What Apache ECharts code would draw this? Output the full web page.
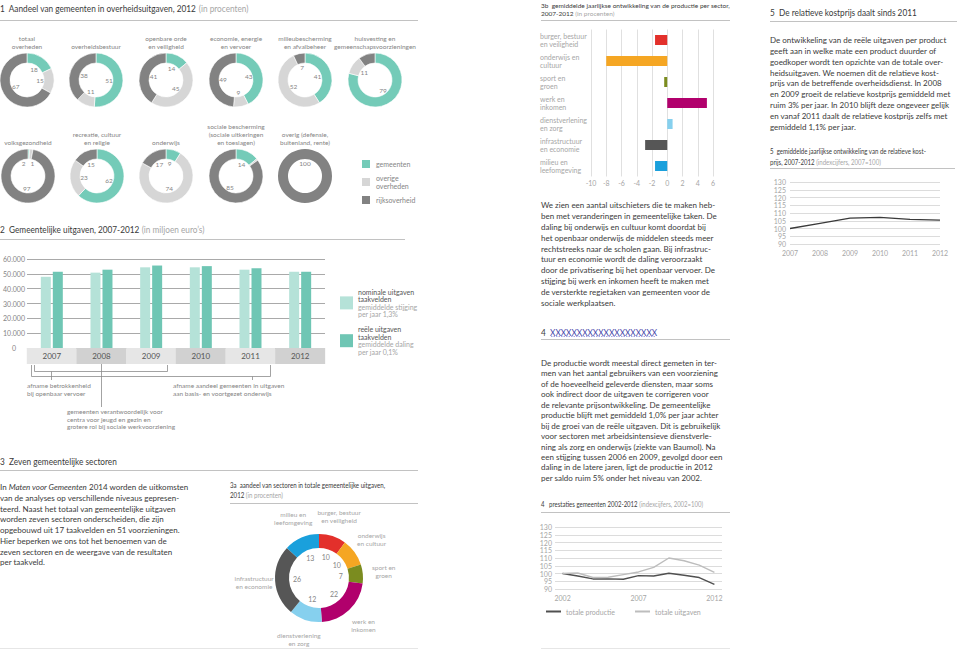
<!DOCTYPE html>
<html>
<head>
<meta charset="utf-8">
<script src="https://cdn.jsdelivr.net/npm/echarts@6/dist/echarts.min.js"></script>
<style>
  html, body { margin: 0; background: #fff; }
  #chart { width: 960px; height: 651px; }
</style>
</head>
<body>
<div id="chart"></div>
<script>
// ---- data ----
// 1: aandeel per overheidslaag (procenten)
const donutTitles = [
  'totaal\noverheden', 'overheidsbestuur', 'openbare orde\nen veiligheid',
  'economie, energie\nen vervoer', 'milieubescherming\nen afvalbeheer',
  'huisvesting en\ngemeenschapsvoorzieningen',
  'volksgezondheid', 'recreatie, cultuur\nen religie', 'onderwijs',
  'sociale bescherming\n(sociale uitkeringen\nen toeslagen)', 'overig (defensie,\nbuitenland, rente)'
]
const shareNames = ['gemeenten', 'overige overheden', 'rijksoverheid']
const gemeentenPct = [18, 51, 14, 43, 41, 79, 1, 62, 9, 14, 0]
const overigePct   = [15, 11, 45, 9, 52, 11, 2, 23, 74, 1, 0]
const rijkPct      = [67, 38, 41, 49, 7, 10, 97, 15, 17, 85, 100]

// 2: gemeentelijke uitgaven (miljoen euro)
const years = ['2007', '2008', '2009', '2010', '2011', '2012']
const barNames = ['nominale uitgaven taakvelden', 'reële uitgaven taakvelden']
const barNotes = [['gemiddelde stijging', 'per jaar 1,3%'], ['gemiddelde daling', 'per jaar 0,1%']]
const nominal = [48000, 50800, 54400, 54400, 52800, 51400]
const reeel   = [51400, 52800, 55600, 55200, 53700, 51400]

// 3a / 3b: sectoren
const sectors3a = ['burger, bestuur\nen veiligheid', 'onderwijs\nen cultuur', 'sport en\ngroen', 'werk en\ninkomen',
  'dienstverlening\nen zorg', 'infrastructuur\nen economie', 'milieu en\nleefomgeving']
const sectors3b = ['burger, bestuur\nen veiligheid', 'onderwijs en\ncultuur', 'sport en\ngroen', 'werk en\ninkomen',
  'dienstverlening\nen zorg', 'infrastructuur\nen economie', 'milieu en\nleefomgeving']
const sectorShare = [10, 10, 7, 22, 12, 26, 13]
const sectorGrowth = [-1.6, -8.0, -0.4, 5.2, 0.7, -2.9, -1.6]

// 4: prestaties 2002-2012 (2002=100)
const prodYears = ['2002', '2003', '2004', '2005', '2006', '2007', '2008', '2009', '2010', '2011', '2012']
const lineNames = ['totale productie', 'totale uitgaven']
const productie = [100, 98.4, 96.5, 96.5, 96.3, 98.6, 98.4, 100.2, 98.9, 97.4, 93.0]
const uitgaven  = [100, 100.3, 97.4, 97.6, 99.3, 101.0, 104.0, 110.0, 108.2, 105.4, 100.8]

// 5: relatieve kostprijs (2007=100)
const relCost = [100, 103.3, 106.7, 107.2, 105.9, 105.4]

// ---- styling / layout ----
const FONT = 'Lato, "Open Sans", sans-serif'
const TEAL = '#74cbb8', LIGHT = '#d6d6d6', DARK = '#828282'
const shareColors = [TEAL, LIGHT, DARK]
const sectorColors = ['#e3302b', '#f5a623', '#7b8c1f', '#b1006c', '#86d0ee', '#565656', '#1aa0dc']
const INK = '#3a3a3a', SOFT = '#858585', PALE = '#a6a6a6', RULE = '#c2c2c2'

const donutPos = [[27, 80], [96, 80], [166, 80], [236, 80], [305, 80], [375, 80],
                  [28, 176], [97, 176], [166, 176], [236, 176], [305, 176]]
// kleine verschuiving van labels die anders overlappen
const nudge = { 6: [[4, 0], [-6, 0], [0, 0]] }

const graphic = []
const rich = (x, y, str, size, dark, grey, sx) => {
  graphic.push({
    type: 'text', x, y, silent: true, scaleX: sx || 1,
    style: { text: str, fontFamily: FONT, fontSize: size, fill: dark, textVerticalAlign: 'middle',
      rich: {
        a: { fontSize: size, fontFamily: FONT, fill: dark },
        b: { fontSize: size, fontFamily: FONT, fill: grey },
        x: { fontSize: size, fontFamily: FONT, fill: '#4343a8' }
      } }
  })
}
const rule = (x1, y, x2, color) => {
  graphic.push({ type: 'line', silent: true, shape: { x1, y1: y + 0.5, x2, y2: y + 0.5 },
    style: { stroke: color || RULE, lineWidth: 1 } })
}
const para = (x, y0, lh, lines, size, extra) => {
  graphic.push({
    type: 'text', x, y: y0 - lh / 2, silent: true,
    style: Object.assign({ text: lines.join('\n'), fontSize: size, fontFamily: FONT, fill: INK,
      lineHeight: lh, textVerticalAlign: 'top',
      rich: { i: { fontStyle: 'italic', fontSize: size, fontFamily: FONT, fill: INK, lineHeight: lh } } }, extra || {})
  })
}

// headings
const HS = 0.87
rich(0, 8, '{a|1  Aandeel van gemeenten in overheidsuitgaven, 2012} {b|(in procenten)}', 9.5, INK, PALE, HS)
rule(0, 20, 418)
rich(0, 229, '{a|2  Gemeentelijke uitgaven, 2007-2012} {b|(in miljoen euro’s)}', 9.5, INK, PALE, HS)
rule(0, 239, 405)
rich(0, 461, '{a|3  Zeven gemeentelijke sectoren}', 9.5, INK, PALE, HS)
rule(0, 470, 418)
rich(541, 332, '{a|4  }{x|XXXXXXXXXXXXXXXXXXXX}', 9.5, INK, PALE, HS)
graphic.push({ type: 'line', silent: true, shape: { x1: 551, y1: 336.5, x2: 655, y2: 336.5 },
  style: { stroke: '#6a6ad0', lineWidth: 0.6, lineDash: [1.5, 1] } })
rule(541, 339, 730)
rich(770, 12, '{a|5  De relatieve kostprijs daalt sinds 2011}', 9.5, INK, PALE, HS)
rule(770, 21, 957)
rule(0, 648, 418, '#e6e6e6')
rule(541, 648, 730, '#e6e6e6')

// chart subtitles
rich(541, 5, '{a|3b  gemiddelde jaarlijkse ontwikkeling van de productie per sector,}', 6.5, INK, PALE)
rich(541, 13, '{a|2007-2012} {b|(in procenten)}', 6.5, INK, PALE)
rule(541, 20, 730)
rich(230, 485, '{a|3a  aandeel van sectoren in totale gemeentelijke uitgaven,}', 7, INK, PALE, 0.88)
rich(230, 495, '{a|2012} {b|(in procenten)}', 7, INK, PALE, 0.88)
rule(230, 503, 418)
rich(541, 504, '{a|4   prestaties gemeenten 2002-2012} {b|(indexcijfers, 2002=100)}', 7, INK, PALE, 0.86)
rule(541, 512, 730)
rich(770, 151, '{a|5  gemiddelde jaarlijkse ontwikkeling van de relatieve kost-}', 7, INK, PALE, 0.87)
rich(770, 162, '{a|prijs, 2007-2012} {b|(indexcijfers, 2007=100)}', 7, INK, PALE, 0.87)
rule(770, 168, 955)

// paragraphs
para(0, 487, 10.75, [
  'In {i|Maten voor Gemeenten} 2014 worden de uitkomsten',
  'van de analyses op verschillende niveaus gepresen-',
  'teerd. Naast het totaal van gemeentelijke uitgaven',
  'worden zeven sectoren onderscheiden, die zijn',
  'opgebouwd uit 17 taakvelden en 51 voorzieningen.',
  'Hier beperken we ons tot het benoemen van de',
  'zeven sectoren en de weergave van de resultaten',
  'per taakveld.'
], 8)
para(541, 205, 10.9, [
  'We zien een aantal uitschieters die te maken heb-',
  'ben met veranderingen in gemeentelijke taken. De',
  'daling bij onderwijs en cultuur komt doordat bij',
  'het openbaar onderwijs de middelen steeds meer',
  'rechtstreeks naar de scholen gaan. Bij infrastruc-',
  'tuur en economie wordt de daling veroorzaakt',
  'door de privatisering bij het openbaar vervoer. De',
  'stijging bij werk en inkomen heeft te maken met',
  'de versterkte regietaken van gemeenten voor de',
  'sociale werkplaatsen.'
], 8)
para(541, 363, 10.45, [
  'De productie wordt meestal direct gemeten in ter-',
  'men van het aantal gebruikers van een voorziening',
  'of de hoeveelheid geleverde diensten, maar soms',
  'ook indirect door de uitgaven te corrigeren voor',
  'de relevante prijsontwikkeling. De gemeentelijke',
  'productie blijft met gemiddeld 1,0% per jaar achter',
  'bij de groei van de reële uitgaven. Dit is gebruikelijk',
  'voor sectoren met arbeidsintensieve dienstverle-',
  'ning als zorg en onderwijs (ziekte van Baumol). Na',
  'een stijging tussen 2006 en 2009, gevolgd door een',
  'daling in de latere jaren, ligt de productie in 2012',
  'per saldo ruim 5% onder het niveau van 2002.'
], 8)
para(770, 40, 10.85, [
  'De ontwikkeling van de reële uitgaven per product',
  'geeft aan in welke mate een product duurder of',
  'goedkoper wordt ten opzichte van de totale over-',
  'heidsuitgaven. We noemen dit de relatieve kost-',
  'prijs van de betreffende overheidsdienst. In 2008',
  'en 2009 groeit de relatieve kostprijs gemiddeld met',
  'ruim 3% per jaar. In 2010 blijft deze ongeveer gelijk',
  'en vanaf 2011 daalt de relatieve kostprijs zelfs met',
  'gemiddeld 1,1% per jaar.'
], 8)

// donut titles
donutTitles.forEach((t, i) => {
  const [cx, cy] = donutPos[i]
  graphic.push({
    type: 'text', x: cx, y: cy - 30, silent: true,
    style: { text: t, fontSize: 6.5, fontFamily: FONT, fill: SOFT, lineHeight: 8,
      textAlign: 'center', textVerticalAlign: 'bottom' }
  })
})

// annotations under chart 2
const ann = '#8c8c8c'
const seg = (x1, y1, x2, y2) => graphic.push({ type: 'line', silent: true,
  shape: { x1, y1, x2, y2 }, style: { stroke: ann, lineWidth: 0.8 } })
seg(34.5, 365, 34.5, 371.5); seg(34.5, 371.5, 167.5, 371.5); seg(167.5, 365, 167.5, 371.5)
seg(31.5, 365, 31.5, 376.5); seg(31.5, 376.5, 270.5, 376.5); seg(270.5, 365, 270.5, 376.5)
seg(51.5, 371.5, 51.5, 380); seg(252.5, 376.5, 252.5, 380)
seg(101.5, 364, 101.5, 407)
para(27, 386, 7.6, ['afname betrokkenheid', 'bij openbaar vervoer'], 6.5, { fill: SOFT })
para(173, 386, 7.6, ['afname aandeel gemeenten in uitgaven', 'aan basis- en voortgezet onderwijs'], 6.5, { fill: SOFT })
para(67, 412, 7.4, ['gemeenten verantwoordelijk voor', 'centra voor jeugd en gezin en',
  'grotere rol bij sociale werkvoorziening'], 6.5, { fill: SOFT })

// ---- series ----
const series = []
donutTitles.forEach((t, i) => {
  const center = donutPos[i]
  const vals = [gemeentenPct[i], overigePct[i], rijkPct[i]]
  const single = vals.filter(v => v > 0).length === 1
  const start = single ? 270 : 90
  series.push({
    type: 'pie', silent: true, animation: false, center, radius: [17, 27], startAngle: start,
    label: { show: false }, labelLine: { show: false }, emphasis: { disabled: true },
    itemStyle: { borderColor: '#fff', borderWidth: single ? 0 : 0.6 },
    data: shareNames.map((n, k) => ({ name: n, value: vals[k], itemStyle: { color: shareColors[k] } }))
      .filter(d => d.value > 0)
  })
  series.push({
    type: 'pie', silent: true, animation: false, center, radius: [6, 14], startAngle: start,
    itemStyle: { color: 'rgba(0,0,0,0)' }, labelLine: { show: false }, emphasis: { disabled: true },
    label: { show: true, position: 'inside', formatter: '{c}', fontSize: 6.5, color: SOFT, fontFamily: FONT },
    data: vals.map((v, k) => {
      const d = { name: 'w' + k, value: v }
      if (nudge[i]) d.label = { offset: nudge[i][k] }
      return d
    }).filter(d => d.value > 0)
  })
})

// chart 2 bars
series.push({ name: barNames[0], type: 'bar', xAxisIndex: 0, yAxisIndex: 0, data: nominal, barWidth: 10,
  barGap: '20%', silent: true, itemStyle: { color: '#b5e2d8' } })
series.push({ name: barNames[1], type: 'bar', xAxisIndex: 0, yAxisIndex: 0, data: reeel, barWidth: 10,
  silent: true, itemStyle: { color: '#6fc6b4' } })

// chart 3a
const c3a = [319, 578]
series.push({ type: 'pie', silent: true, animation: false, center: c3a, radius: [30, 44], startAngle: 90,
  label: { show: false }, labelLine: { show: false }, emphasis: { disabled: true },
  data: sectors3a.map((n, k) => ({ name: n, value: sectorShare[k], itemStyle: { color: sectorColors[k] } })) })
series.push({ type: 'pie', silent: true, animation: false, center: c3a, radius: [11, 27], startAngle: 90,
  itemStyle: { color: 'rgba(0,0,0,0)' }, labelLine: { show: false }, emphasis: { disabled: true },
  label: { show: true, position: 'inside', formatter: '{c}', fontSize: 7, color: SOFT, fontFamily: FONT },
  data: sectorShare.map((v, k) => ({ name: 'p' + k, value: v })) })
series.push({ type: 'pie', silent: true, animation: false, center: c3a, radius: [50, 74], startAngle: 90,
  itemStyle: { color: 'rgba(0,0,0,0)' }, labelLine: { show: false }, emphasis: { disabled: true },
  label: { show: true, position: 'inside', formatter: '{b}', fontSize: 6.5, lineHeight: 8, color: PALE, fontFamily: FONT },
  data: sectors3a.map((n, k) => ({ name: n, value: sectorShare[k] })) })

// chart 3b
series.push({ type: 'bar', xAxisIndex: 1, yAxisIndex: 1, barWidth: 10, silent: true,
  data: sectorGrowth.map((v, k) => ({ value: v, itemStyle: { color: sectorColors[k] } })) })

// chart 4
series.push({ name: lineNames[0], type: 'line', xAxisIndex: 2, yAxisIndex: 2, data: productie,
  symbol: 'none', silent: true, lineStyle: { color: '#505050', width: 1.4 }, itemStyle: { color: '#505050' } })
series.push({ name: lineNames[1], type: 'line', xAxisIndex: 2, yAxisIndex: 2, data: uitgaven,
  symbol: 'none', silent: true, lineStyle: { color: '#bdbdbd', width: 1.4 }, itemStyle: { color: '#bdbdbd' } })

// chart 5
series.push({ type: 'line', xAxisIndex: 3, yAxisIndex: 3, data: relCost,
  symbol: 'none', silent: true, lineStyle: { color: '#3a3a3a', width: 1.4 } })

const small = { fontSize: 7, color: PALE, fontFamily: FONT }
const noLine = { show: false }

const option = {
  animation: false,
  textStyle: { fontFamily: FONT },
  grid: [
    { left: 25, top: 259, width: 300, height: 89 },
    { left: 591, top: 29.5, width: 122, height: 147 },
    { left: 555, top: 527, width: 167, height: 62 },
    { left: 790, top: 182, width: 150, height: 62 }
  ],
  xAxis: [
    { gridIndex: 0, type: 'category', data: years, axisLine: noLine, axisTick: noLine,
      axisLabel: { interval: 0, margin: 0,
        formatter: (v, i) => (i % 2 ? '{d|' : '{l|') + v + '}',
        rich: {
          l: { backgroundColor: '#e6e6e6', width: 50, height: 16, lineHeight: 16, align: 'center',
               fontSize: 8, color: '#555', fontFamily: FONT },
          d: { backgroundColor: '#d1d1d1', width: 50, height: 16, lineHeight: 16, align: 'center',
               fontSize: 8, color: '#555', fontFamily: FONT }
        } } },
    { gridIndex: 1, type: 'value', min: -10, max: 6, interval: 2, axisLine: noLine, axisTick: noLine,
      splitLine: { lineStyle: { color: '#e0e0e0' } }, axisLabel: Object.assign({ margin: 3 }, small) },
    { gridIndex: 2, type: 'category', data: prodYears, boundaryGap: true, axisLine: noLine, axisTick: noLine,
      axisLabel: Object.assign({ interval: 4, margin: 5 }, small) },
    { gridIndex: 3, type: 'category', data: years, boundaryGap: false, axisLine: noLine, axisTick: noLine,
      axisLabel: Object.assign({ interval: 0, margin: 5 }, small) }
  ],
  yAxis: [
    { gridIndex: 0, type: 'value', min: 0, max: 60000, interval: 10000, axisLine: noLine, axisTick: noLine,
      splitLine: { lineStyle: { color: '#a9a9a9' } },
      axisLabel: { align: 'center', margin: 13, fontSize: 7, color: SOFT, fontFamily: FONT,
        formatter: v => v === 0 ? '0' : (v / 1000) + '.000' } },
    { gridIndex: 1, type: 'category', data: sectors3b, inverse: true, axisLine: noLine, axisTick: noLine,
      axisLabel: Object.assign({ align: 'left', margin: 51, lineHeight: 8, interval: 0 }, small) },
    { gridIndex: 2, type: 'value', min: 90, max: 130, interval: 5, axisLine: noLine, axisTick: noLine,
      splitLine: { lineStyle: { color: '#dcdcdc' } }, axisLabel: Object.assign({ margin: 3 }, small) },
    { gridIndex: 3, type: 'value', min: 90, max: 130, interval: 5, axisLine: noLine, axisTick: noLine,
      splitLine: { lineStyle: { color: '#dcdcdc' } }, axisLabel: Object.assign({ margin: 4 }, small) }
  ],
  legend: [
    { data: shareNames, orient: 'vertical', left: 355, top: 153, itemWidth: 10, itemHeight: 10, itemGap: 4,
      icon: 'rect', selectedMode: false,
      formatter: n => n === 'overige overheden' ? 'overige\noverheden' : n,
      textStyle: { fontSize: 7, lineHeight: 8, color: SOFT, fontFamily: FONT } },
    { data: barNames, orient: 'vertical', left: 335, top: 283, itemWidth: 13, itemHeight: 13, itemGap: 8,
      icon: 'rect', selectedMode: false,
      formatter: n => {
        const k = barNames.indexOf(n)
        const head = n.replace(' taakvelden', '')
        return '{a|' + head + '}\n{a|taakvelden}\n{b|' + barNotes[k][0] + '}\n{b|' + barNotes[k][1] + '}'
      },
      textStyle: { rich: {
        a: { fontSize: 7, lineHeight: 7.6, color: '#555', fontFamily: FONT },
        b: { fontSize: 7, lineHeight: 7.6, color: PALE, fontFamily: FONT } } } },
    { data: lineNames, orient: 'horizontal', left: 541, top: 603, itemWidth: 15, itemHeight: 2, itemGap: 20,
      icon: 'rect', selectedMode: false, textStyle: { fontSize: 7, color: PALE, fontFamily: FONT } }
  ],
  graphic: graphic,
  series: series
}

const chart = echarts.init(document.getElementById('chart'), null, { renderer: 'svg' })
chart.setOption(option)
</script>
</body>
</html>
